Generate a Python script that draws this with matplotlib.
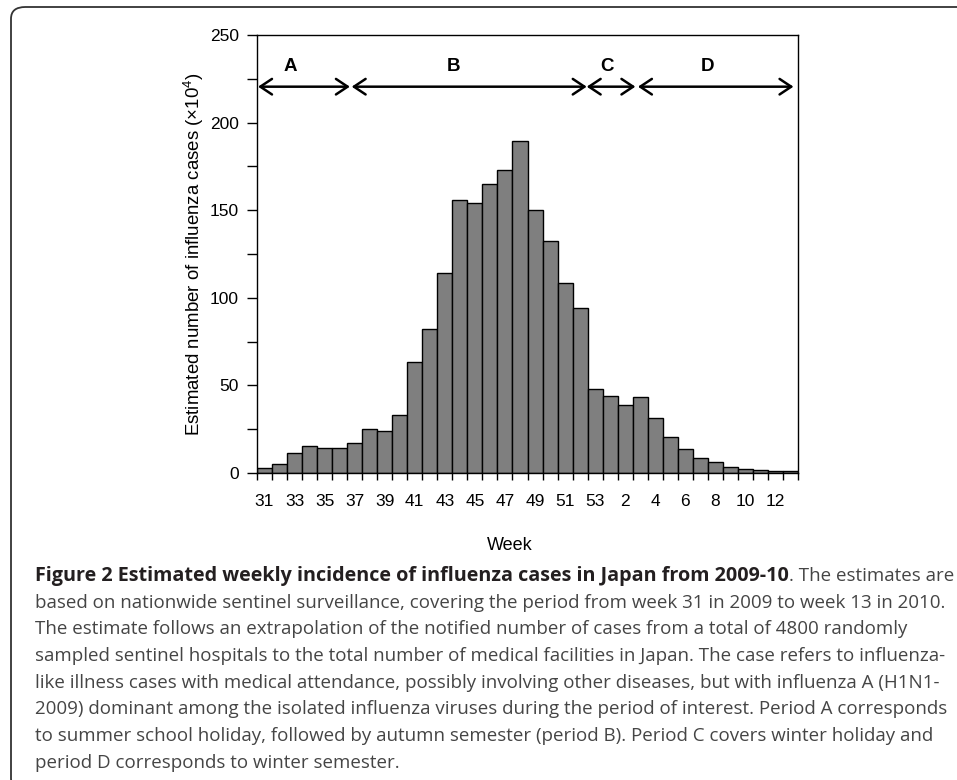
import matplotlib
matplotlib.use("Agg")
import matplotlib.pyplot as plt
from matplotlib.patches import FancyBboxPatch
import numpy as np

# weekly estimates (x10^4), week 31 of 2009 to week 13 of 2010
weeks = list(range(31, 54)) + list(range(1, 14))
cases = [3, 5, 11.4, 15.2, 14.3, 14.3, 17.1, 25.1, 24.1, 33.3, 63.5, 82.3,
         114.1, 155.7, 154.2, 165.0, 172.8, 189.7, 150.0, 132.3, 108.4, 94.1,
         48.1, 43.9, 38.8, 43.3, 31.4, 20.5, 13.7, 8.4, 6.3, 3.4, 2.3, 1.9,
         1.0, 1.0]
periods = ["A", "B", "C", "D"]
period_spans = [(-0.43, 5.68), (5.8, 21.44), (21.44, 24.68), (24.85, 35.2)]
period_label_x = [1.74, 12.56, 22.77, 29.5]

caption_bold = "Figure 2 Estimated weekly incidence of influenza cases in Japan from 2009-10"
caption_lines = [
    ". The estimates are",
    "based on nationwide sentinel surveillance, covering the period from week 31 in 2009 to week 13 in 2010.",
    "The estimate follows an extrapolation of the notified number of cases from a total of 4800 randomly",
    "sampled sentinel hospitals to the total number of medical facilities in Japan. The case refers to influenza-",
    "like illness cases with medical attendance, possibly involving other diseases, but with influenza A (H1N1-",
    "2009) dominant among the isolated influenza viruses during the period of interest. Period A corresponds",
    "to summer school holiday, followed by autumn semester (period B). Period C covers winter holiday and",
    "period D corresponds to winter semester.",
]

W, H = 957, 780
plt.rcParams["font.family"] = ["Liberation Sans", "DejaVu Sans"]
plt.rcParams["mathtext.fontset"] = "custom"
plt.rcParams["mathtext.rm"] = "Liberation Sans"

fig = plt.figure(figsize=(W / 100, H / 100), dpi=100)
ax = fig.add_axes([257 / W, 1 - 473 / H, (798 - 257) / W, (473 - 35) / H])

x = np.arange(len(weeks))
ax.bar(x, cases, width=1.0, color="#7f7f7f", edgecolor="black", linewidth=1.0)
ax.set_xlim(-0.5, len(weeks) - 0.5)
ax.set_ylim(0, 250)

ax.set_xticks(x[::2])
ax.set_xticklabels([str(w) for w in weeks[::2]])
ax.set_xticks(np.arange(-0.5, len(weeks)), minor=True)
ax.tick_params(axis="x", which="major", length=0, pad=15, labelsize=12.5)
ax.tick_params(axis="x", which="minor", length=5, width=1, direction="out")
ax.set_yticks(np.arange(0, 251, 50))
ax.set_yticks(np.arange(0, 251, 25), minor=True)
ax.tick_params(axis="y", which="both", length=7, width=1, direction="out", pad=6, labelsize=12.5)
for s in ax.spines.values():
    s.set_linewidth(1.0)

ax.set_ylabel(r"Estimated number of influenza cases (×10$^\mathregular{4}$)", fontsize=13.4, labelpad=3)

for name, (x0, x1), lx in zip(periods, period_spans, period_label_x):
    ax.annotate("", xy=(x1, 220.5), xytext=(x0, 220.5),
                arrowprops=dict(arrowstyle="<->,head_length=0.6,head_width=0.4",
                                lw=1.8, color="black", shrinkA=0, shrinkB=0,
                                mutation_scale=14))
    ax.text(lx, 232, name, ha="center", va="center", fontsize=13.5, fontweight="bold")

fig.text(510 / W, 1 - 545 / H, "Week", ha="center", va="center", fontsize=13)

# caption
cap_font = ["Open Sans", "DejaVu Sans"]
y0 = 576
t1 = fig.text(35 / W, 1 - y0 / H, caption_bold, ha="left", va="center",
              fontsize=14.2, fontweight="bold", color="#231f20", family=cap_font)
fig.canvas.draw()
bb = t1.get_window_extent()
fig.text(bb.x1 / W, 1 - y0 / H, caption_lines[0], ha="left", va="center",
         fontsize=13.5, color="#454545", family=cap_font)
for i, line in enumerate(caption_lines[1:], start=1):
    fig.text(35 / W, 1 - (y0 + i * 26.7) / H, line, ha="left", va="center",
             fontsize=13.5, color="#454545", family=cap_font)

box = FancyBboxPatch((11 / W, -10 / H), 1.2, (773 + 10) / H,
                     boxstyle="round,pad=0,rounding_size=0.015",
                     transform=fig.transFigure, fill=False, edgecolor="#333333",
                     linewidth=1.3)
fig.add_artist(box)

fig.savefig("out.png", dpi=100)
